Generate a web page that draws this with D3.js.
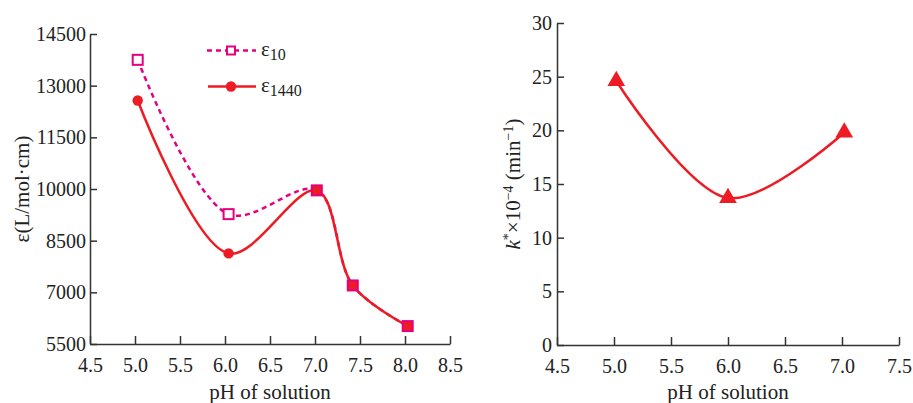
<!DOCTYPE html>
<html>
<head>
<meta charset="utf-8">
<script src="https://cdn.jsdelivr.net/npm/d3@7"></script>
<style>
  html, body { margin: 0; padding: 0; background: #fff; }
  svg, svg text { font-family: 'Liberation Serif', 'Times New Roman', serif !important; }
</style>
</head>
<body>
<svg id="chart" width="913" height="403"></svg>
<script>
// ---- Data ----
const phLeft = [5.03, 6.04, 7.02, 7.42, 8.03];
const eps10 = [13750, 9270, 9960, 7200, 6020];
const eps1440 = [12570, 8130, 9960, 7200, 6020];
const leftXTicks = [4.5, 5.0, 5.5, 6.0, 6.5, 7.0, 7.5, 8.0, 8.5];
const leftYTicks = [5500, 7000, 8500, 10000, 11500, 13000, 14500];

const phRight = [5.02, 6.0, 7.02];
const kValues = [24.6, 13.7, 19.8];
const rightXTicks = [4.5, 5.0, 5.5, 6.0, 6.5, 7.0, 7.5];
const rightYTicks = [0, 5, 10, 15, 20, 25, 30];

const RED = "#ed1c24";
const MAG = "#e4007f";
const AX = "#333";
const FS = 20;
const TS = 21;

const svg = d3.select("#chart");

function styleAxis(g) {
  g.attr("font-family", null).attr("font-size", null);
  g.selectAll(".domain").attr("stroke", AX).attr("stroke-width", 1.5);
  g.selectAll(".tick line").attr("stroke", AX).attr("stroke-width", 1.5);
  g.selectAll("text").attr("fill", "#222").style("font-size", FS + "px")
    .style("font-family", "'Liberation Serif', serif");
}

// ---- Left chart ----
const xL = d3.scaleLinear().domain([4.5, 8.5]).range([90, 450]);
const yL = d3.scaleLinear().domain([5500, 14500]).range([344, 34]);

const gxL = svg.append("g").attr("transform", `translate(0,${yL(5500)})`)
  .call(d3.axisBottom(xL).tickValues(leftXTicks).tickFormat(d3.format(".1f"))
    .tickSizeInner(-8).tickSizeOuter(0).tickPadding(14));
styleAxis(gxL);
gxL.selectAll("text").attr("dy", "0.71em");
const gyL = svg.append("g").attr("transform", `translate(${xL(4.5)},0)`)
  .call(d3.axisLeft(yL).tickValues(leftYTicks).tickFormat(d3.format("d"))
    .tickSizeInner(-7).tickSizeOuter(0).tickPadding(4));
styleAxis(gyL);

const lineL = d3.line().x((d, i) => xL(phLeft[i])).y(d => yL(d)).curve(d3.curveCatmullRom.alpha(0.5));

svg.append("path").datum(eps10).attr("d", lineL)
  .attr("fill", "none").attr("stroke", MAG).attr("stroke-width", 2.5)
  .attr("stroke-dasharray", "5,4");
svg.append("path").datum(eps1440).attr("d", lineL)
  .attr("fill", "none").attr("stroke", RED).attr("stroke-width", 2.5);

// circles for eps1440
svg.append("g").selectAll("circle").data(eps1440).join("circle")
  .attr("cx", (d, i) => xL(phLeft[i])).attr("cy", d => yL(d)).attr("r", 5.2)
  .attr("fill", RED);
// squares for eps10 (filled where the two series coincide)
const sq = 10;
svg.append("g").selectAll("rect").data(eps10).join("rect")
  .attr("x", (d, i) => xL(phLeft[i]) - sq / 2).attr("y", d => yL(d) - sq / 2)
  .attr("width", sq).attr("height", sq)
  .attr("fill", (d, i) => Math.abs(d - eps1440[i]) < 1 ? RED : "#fff")
  .attr("stroke", MAG).attr("stroke-width", 2);

// legend
const lg = svg.append("g");
lg.append("line").attr("x1", 207).attr("x2", 256).attr("y1", 50.5).attr("y2", 50.5)
  .attr("stroke", MAG).attr("stroke-width", 2.5).attr("stroke-dasharray", "5,4");
lg.append("rect").attr("x", 231 - 4).attr("y", 50.5 - 4).attr("width", 8).attr("height", 8)
  .attr("fill", "#fff").attr("stroke", MAG).attr("stroke-width", 2);
lg.append("line").attr("x1", 208).attr("x2", 256).attr("y1", 86.5).attr("y2", 86.5)
  .attr("stroke", RED).attr("stroke-width", 2.5);
lg.append("circle").attr("cx", 231).attr("cy", 86.5).attr("r", 5.2).attr("fill", RED);
const t1 = lg.append("text").attr("x", 261).attr("y", 56).attr("fill", "#222").style("font-size", TS + "px");
t1.append("tspan").text("ε");
t1.append("tspan").attr("dy", 4).style("font-size", "16px").text("10");
const t2 = lg.append("text").attr("x", 261).attr("y", 92).attr("fill", "#222").style("font-size", TS + "px");
t2.append("tspan").text("ε");
t2.append("tspan").attr("dy", 4).style("font-size", "16px").text("1440");

// axis titles
svg.append("text").attr("transform", `translate(29,${(34 + 344) / 2}) rotate(-90)`)
  .attr("text-anchor", "middle").attr("fill", "#222").style("font-size", TS + "px")
  .text("ε(L/mol·cm)");
svg.append("text").attr("x", (90 + 450) / 2).attr("y", 399).attr("text-anchor", "middle")
  .attr("fill", "#222").style("font-size", TS + "px").text("pH of solution");

// ---- Right chart ----
const xR = d3.scaleLinear().domain([4.5, 7.5]).range([557, 899]);
const yR = d3.scaleLinear().domain([0, 30]).range([345, 23]);

const gxR = svg.append("g").attr("transform", `translate(0,${yR(0)})`)
  .call(d3.axisBottom(xR).tickValues(rightXTicks).tickFormat(d3.format(".1f"))
    .tickSizeInner(-8).tickSizeOuter(0).tickPadding(14));
styleAxis(gxR);
gxR.selectAll("text").attr("dy", "0.71em");
const gyR = svg.append("g").attr("transform", `translate(${xR(4.5)},0)`)
  .call(d3.axisLeft(yR).tickValues(rightYTicks).tickFormat(d3.format("d"))
    .tickSizeInner(-7).tickSizeOuter(0).tickPadding(5));
styleAxis(gyR);

const lineK = d3.line().x((d, i) => xR(phRight[i])).y(d => yR(d)).curve(d3.curveCatmullRom.alpha(0.5));
svg.append("path").datum(kValues).attr("d", lineK)
  .attr("fill", "none").attr("stroke", RED).attr("stroke-width", 2.5);

const tri = d3.symbol().type(d3.symbolTriangle).size(135);
svg.append("g").selectAll("path").data(kValues).join("path")
  .attr("transform", (d, i) => `translate(${xR(phRight[i])},${yR(d)})`)
  .attr("d", tri).attr("fill", RED);

const kt = svg.append("text").attr("transform", `translate(520,${(23 + 345) / 2}) rotate(-90)`)
  .attr("text-anchor", "middle").attr("fill", "#222").style("font-size", TS + "px");
kt.append("tspan").style("font-style", "italic").text("k");
kt.append("tspan").attr("dy", -7).style("font-size", "14px").text("*");
kt.append("tspan").attr("dy", 7).text("×10");
kt.append("tspan").attr("dy", -7).style("font-size", "14px").text("−4");
kt.append("tspan").attr("dy", 7).text(" (min");
kt.append("tspan").attr("dy", -7).style("font-size", "14px").text("−1");
kt.append("tspan").attr("dy", 7).text(")");

svg.append("text").attr("x", (557 + 899) / 2).attr("y", 399).attr("text-anchor", "middle")
  .attr("fill", "#222").style("font-size", TS + "px").text("pH of solution");
</script>
</body>
</html>
